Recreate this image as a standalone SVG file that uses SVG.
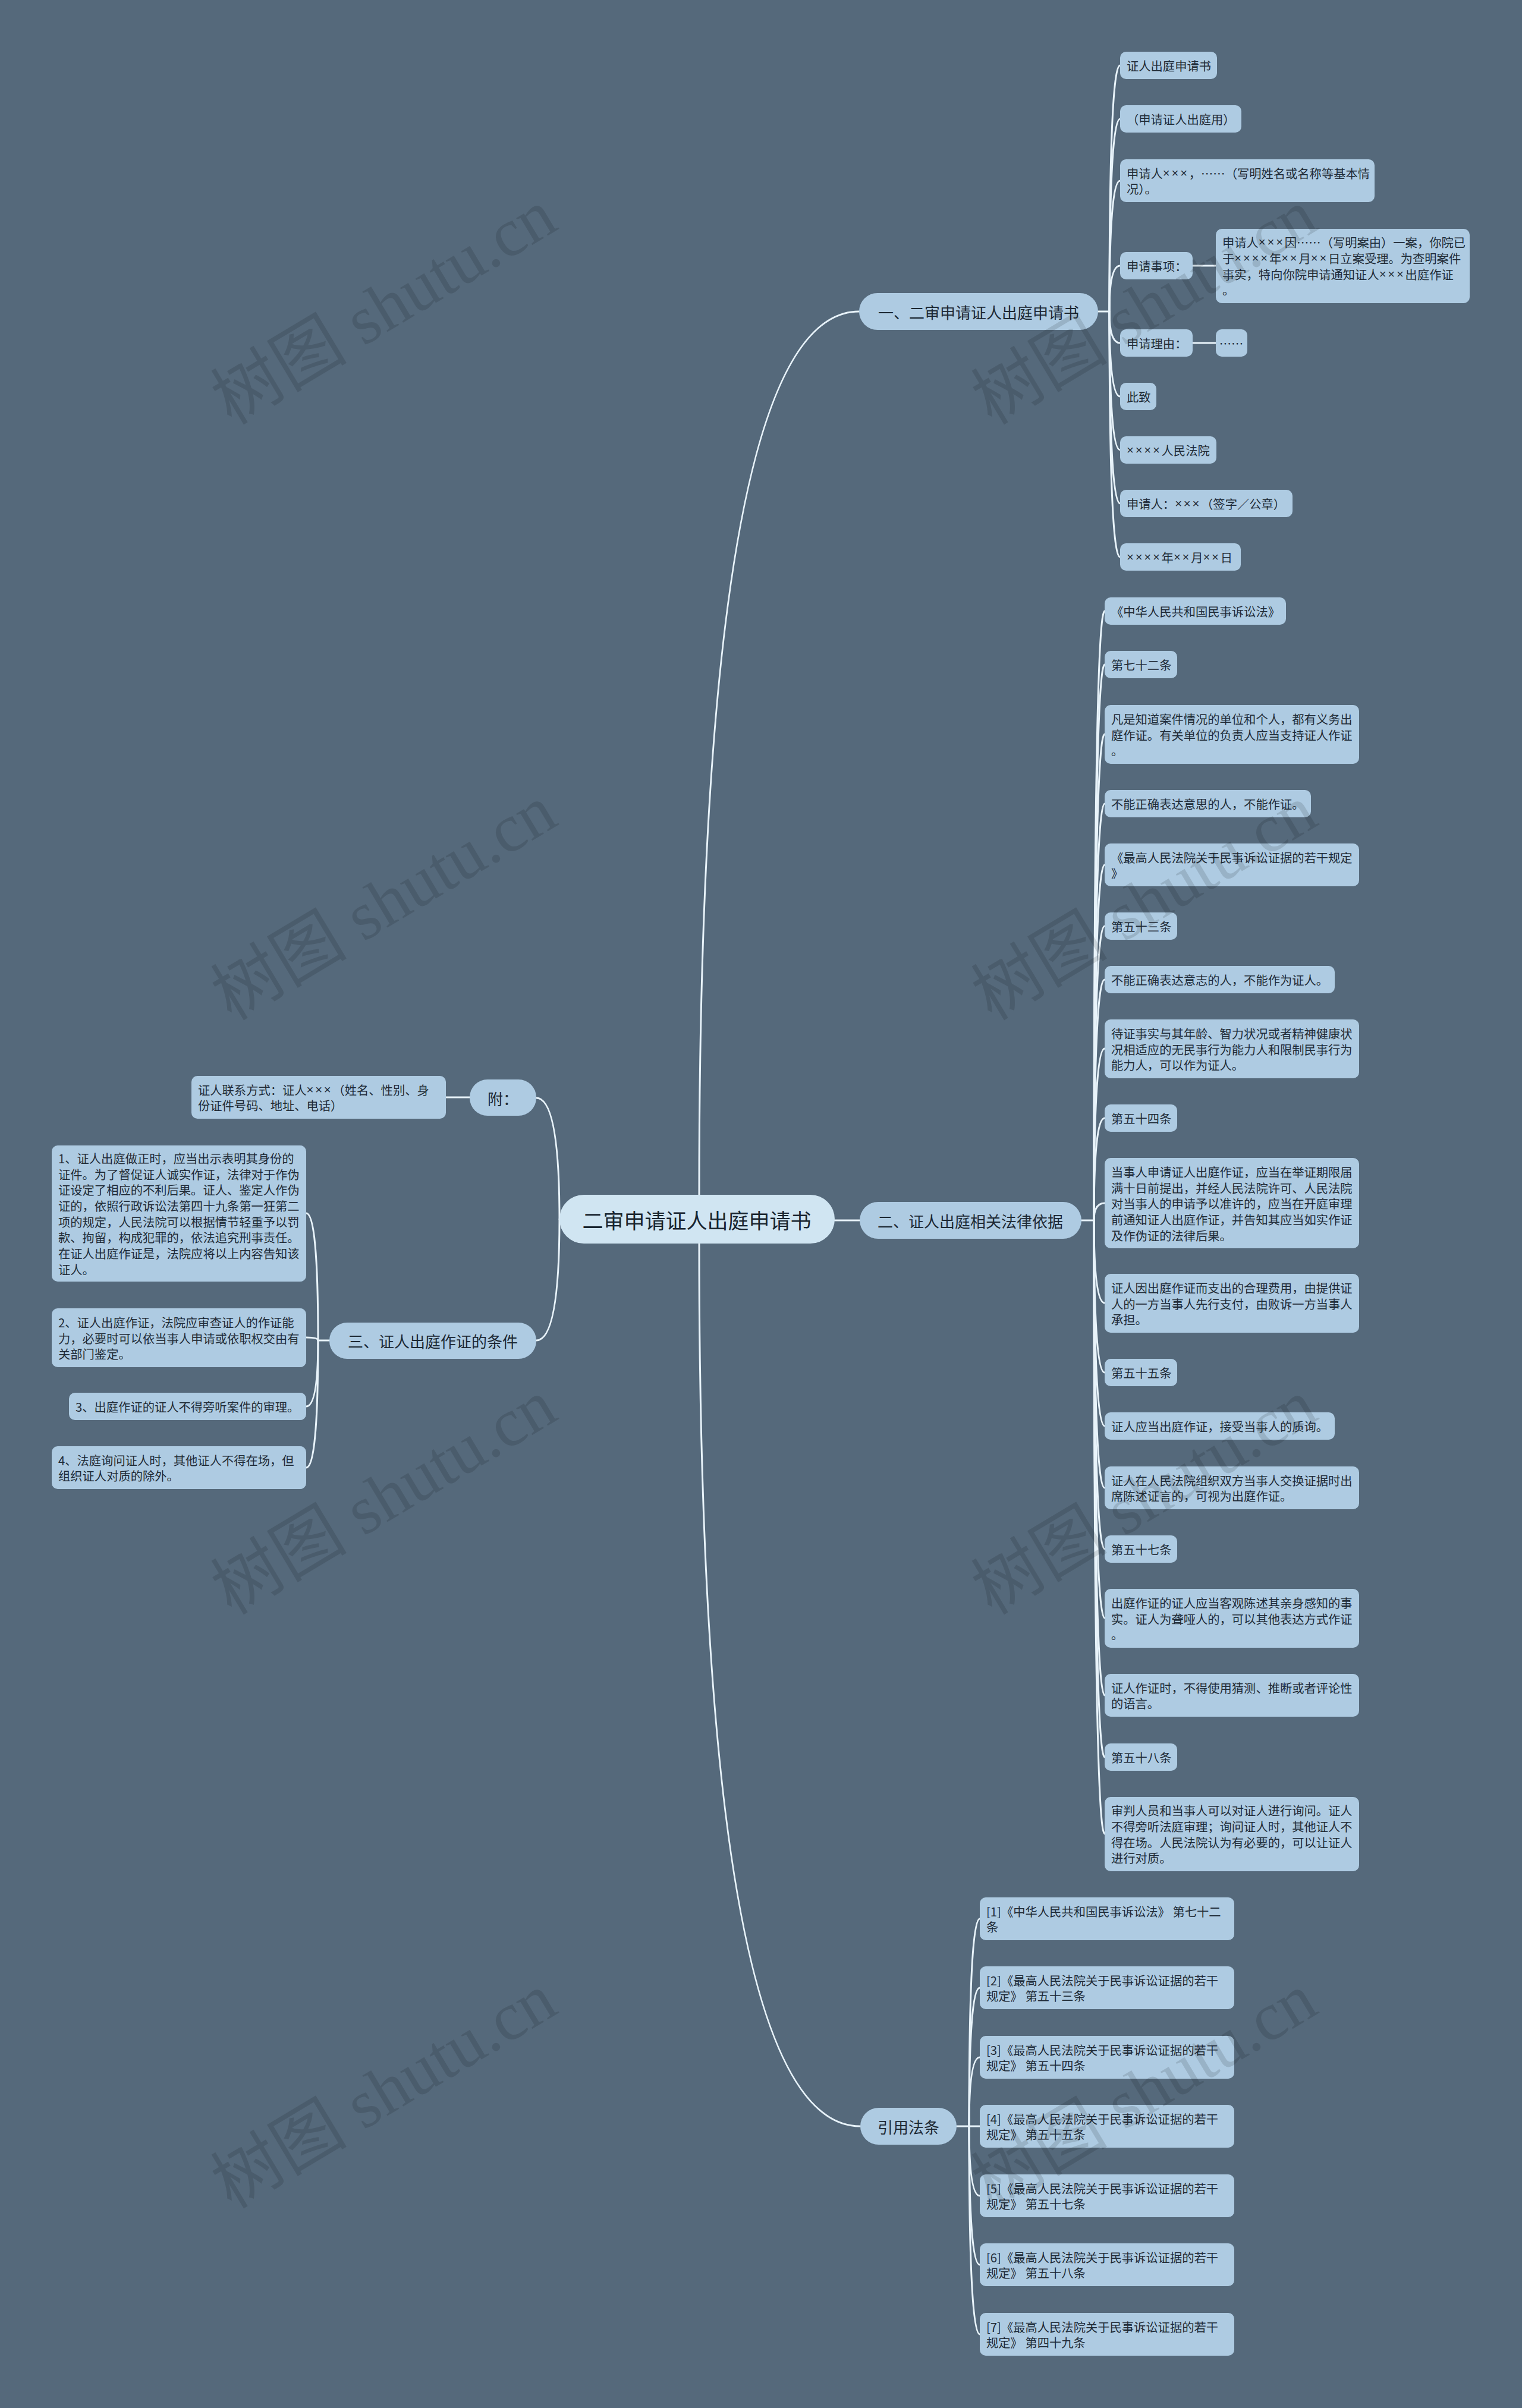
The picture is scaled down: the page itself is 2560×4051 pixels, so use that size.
<svg xmlns="http://www.w3.org/2000/svg" width="2560" height="4051" viewBox="0 0 2560 4051">
<style>
.bg{fill:#55697b}
.conn path{fill:none;stroke:#e8f3fa;stroke-width:3;stroke-linecap:round}
.leaf rect{fill:#aecbe2}
.leaf text{font-family:'Noto Sans CJK SC','Noto Sans',sans-serif;font-size:20.3px;fill:#1f2b37;dominant-baseline:central}
.x{font-family:'Liberation Sans','DejaVu Sans',sans-serif;letter-spacing:2.8px}
.branch rect{fill:#aecbe2}
.branch text{font-family:'Noto Sans CJK SC','Noto Sans',sans-serif;font-size:26px;fill:#1c2833;text-anchor:middle;dominant-baseline:central}
.root rect{fill:#d0e5f2}
.root text{font-family:'Noto Sans CJK SC','Noto Sans',sans-serif;font-size:35px;fill:#18242f;text-anchor:middle;dominant-baseline:central}
.wm text{font-family:'Liberation Serif','Noto Sans CJK SC',serif;font-size:115px;fill:#000;fill-opacity:0.12;text-anchor:middle;dominant-baseline:central}
</style>
<rect class="bg" x="0" y="0" width="2560" height="4051"/>

<g id="connectors" class="conn">
<path d="M1176 2010 Q1176 524 1445 524"/>
<path d="M1176 2092 Q1176 3577 1447 3577"/>
<path d="M941 2051 Q941 1847 902 1847"/>
<path d="M941 2051 Q941 2255 902 2255"/>
<path d="M1404 2053 L1446 2053"/>
<path d="M1847 524 L1866 524"/>
<path d="M1866 524 Q1866 110 1884 110"/>
<path d="M1866 524 Q1866 200 1884 200"/>
<path d="M1866 524 Q1866 304 1884 304"/>
<path d="M1866 524 Q1866 447 1884 447"/>
<path d="M1866 524 Q1866 577 1884 577"/>
<path d="M1866 524 Q1866 667 1884 667"/>
<path d="M1866 524 Q1866 757 1884 757"/>
<path d="M1866 524 Q1866 847 1884 847"/>
<path d="M1866 524 Q1866 937 1884 937"/>
<path d="M2006 447 L2045 447"/>
<path d="M2006 577 L2045 577"/>
<path d="M1819 2053 L1840 2053"/>
<path d="M1840 2053 Q1840 1028 1858 1028"/>
<path d="M1840 2053 Q1840 1118 1858 1118"/>
<path d="M1840 2053 Q1840 1235 1858 1235"/>
<path d="M1840 2053 Q1840 1352 1858 1352"/>
<path d="M1840 2053 Q1840 1455 1858 1455"/>
<path d="M1840 2053 Q1840 1558 1858 1558"/>
<path d="M1840 2053 Q1840 1648 1858 1648"/>
<path d="M1840 2053 Q1840 1764 1858 1764"/>
<path d="M1840 2053 Q1840 1881 1858 1881"/>
<path d="M1840 2053 Q1840 2024 1858 2024"/>
<path d="M1840 2053 Q1840 2192 1858 2192"/>
<path d="M1840 2053 Q1840 2309 1858 2309"/>
<path d="M1840 2053 Q1840 2399 1858 2399"/>
<path d="M1840 2053 Q1840 2503 1858 2503"/>
<path d="M1840 2053 Q1840 2606 1858 2606"/>
<path d="M1840 2053 Q1840 2722 1858 2722"/>
<path d="M1840 2053 Q1840 2852 1858 2852"/>
<path d="M1840 2053 Q1840 2956 1858 2956"/>
<path d="M1840 2053 Q1840 3085 1858 3085"/>
<path d="M1609 3577 L1630 3577"/>
<path d="M1630 3577 Q1630 3228 1648 3228"/>
<path d="M1630 3577 Q1630 3344 1648 3344"/>
<path d="M1630 3577 Q1630 3461 1648 3461"/>
<path d="M1630 3577 L1648 3577"/>
<path d="M1630 3577 Q1630 3694 1648 3694"/>
<path d="M1630 3577 Q1630 3810 1648 3810"/>
<path d="M1630 3577 Q1630 3927 1648 3927"/>
<path d="M790 1846 L750 1846"/>
<path d="M554 2255 L535 2255"/>
<path d="M535 2255 Q535 2041 515 2041"/>
<path d="M535 2255 Q535 2250 515 2250"/>
<path d="M535 2255 Q535 2366 515 2366"/>
<path d="M535 2255 Q535 2469 515 2469"/>
</g>

<g id="root" class="root"><rect x="941" y="2010" width="463" height="82" rx="41"/><text x="1172" y="2051">二审申请证人出庭申请书</text></g>

<g id="b1" class="branch"><rect x="1445" y="493" width="402" height="62" rx="31"/><text x="1646" y="524">一、二审申请证人出庭申请书</text></g>
<g id="b2" class="branch"><rect x="1446" y="2022" width="373" height="62" rx="31"/><text x="1632" y="2053">二、证人出庭相关法律依据</text></g>
<g id="b3" class="branch"><rect x="1447" y="3546" width="162" height="62" rx="31"/><text x="1528" y="3577">引用法条</text></g>
<g id="b4" class="branch"><rect x="790" y="1816" width="112" height="61" rx="30"/><text x="846" y="1847">附：</text></g>
<g id="b5" class="branch"><rect x="554" y="2225" width="348" height="61" rx="30"/><text x="728" y="2255">三、证人出庭作证的条件</text></g>

<g id="n1-1" class="leaf"><rect x="1884" y="87" width="163" height="46" rx="10"/><text x="1895" y="110">证人出庭申请书</text></g>
<g id="n1-2" class="leaf"><rect x="1884" y="177" width="204" height="46" rx="10"/><text x="1895" y="200">（申请证人出庭用）</text></g>
<g id="n1-3" class="leaf"><rect x="1884" y="268" width="428" height="72" rx="10"/><text x="1895" y="291">申请人<tspan class="x">×××</tspan>，……（写明姓名或名称等基本情</text><text x="1895" y="317">况）。</text></g>
<g id="n1-4" class="leaf"><rect x="1884" y="424" width="122" height="46" rx="10"/><text x="1895" y="447">申请事项：</text></g>
<g id="n1-4a" class="leaf"><rect x="2045" y="385" width="427" height="125" rx="10"/><text x="2056" y="407">申请人<tspan class="x">×××</tspan>因……（写明案由）一案，你院已</text><text x="2056" y="434">于<tspan class="x">××××</tspan>年<tspan class="x">××</tspan>月<tspan class="x">××</tspan>日立案受理。为查明案件</text><text x="2056" y="461">事实，特向你院申请通知证人<tspan class="x">×××</tspan>出庭作证</text><text x="2056" y="487">。</text></g>
<g id="n1-5" class="leaf"><rect x="1884" y="554" width="122" height="46" rx="10"/><text x="1895" y="577">申请理由：</text></g>
<g id="n1-5a" class="leaf"><rect x="2045" y="554" width="53" height="46" rx="10"/><text x="2071" y="577" style="text-anchor:middle">……</text></g>
<g id="n1-6" class="leaf"><rect x="1884" y="644" width="61" height="46" rx="10"/><text x="1895" y="667">此致</text></g>
<g id="n1-7" class="leaf"><rect x="1884" y="734" width="162" height="46" rx="10"/><text x="1895" y="757"><tspan class="x">××××</tspan>人民法院</text></g>
<g id="n1-8" class="leaf"><rect x="1884" y="824" width="290" height="46" rx="10"/><text x="1895" y="847">申请人：<tspan class="x">×××</tspan>（签字／公章）</text></g>
<g id="n1-9" class="leaf"><rect x="1884" y="914" width="203" height="46" rx="10"/><text x="1895" y="937"><tspan class="x">××××</tspan>年<tspan class="x">××</tspan>月<tspan class="x">××</tspan>日</text></g>

<g id="n2-1" class="leaf"><rect x="1858" y="1005" width="305" height="46" rx="10"/><text x="1869" y="1028">《中华人民共和国民事诉讼法》</text></g>
<g id="n2-2" class="leaf"><rect x="1858" y="1095" width="122" height="46" rx="10"/><text x="1869" y="1118">第七十二条</text></g>
<g id="n2-3" class="leaf"><rect x="1858" y="1186" width="428" height="99" rx="10"/><text x="1869" y="1209">凡是知道案件情况的单位和个人，都有义务出</text><text x="1869" y="1236">庭作证。有关单位的负责人应当支持证人作证</text><text x="1869" y="1262">。</text></g>
<g id="n2-4" class="leaf"><rect x="1858" y="1329" width="347" height="46" rx="10"/><text x="1869" y="1352">不能正确表达意思的人，不能作证。</text></g>
<g id="n2-5" class="leaf"><rect x="1858" y="1419" width="428" height="72" rx="10"/><text x="1869" y="1442">《最高人民法院关于民事诉讼证据的若干规定</text><text x="1869" y="1468">》</text></g>
<g id="n2-6" class="leaf"><rect x="1858" y="1535" width="122" height="46" rx="10"/><text x="1869" y="1558">第五十三条</text></g>
<g id="n2-7" class="leaf"><rect x="1858" y="1625" width="387" height="46" rx="10"/><text x="1869" y="1648">不能正确表达意志的人，不能作为证人。</text></g>
<g id="n2-8" class="leaf"><rect x="1858" y="1715" width="428" height="99" rx="10"/><text x="1869" y="1738">待证事实与其年龄、智力状况或者精神健康状</text><text x="1869" y="1765">况相适应的无民事行为能力人和限制民事行为</text><text x="1869" y="1791">能力人，可以作为证人。</text></g>
<g id="n2-9" class="leaf"><rect x="1858" y="1858" width="122" height="46" rx="10"/><text x="1869" y="1881">第五十四条</text></g>
<g id="n2-10" class="leaf"><rect x="1858" y="1948" width="428" height="152" rx="10"/><text x="1869" y="1971">当事人申请证人出庭作证，应当在举证期限届</text><text x="1869" y="1998">满十日前提出，并经人民法院许可、人民法院</text><text x="1869" y="2024">对当事人的申请予以准许的，应当在开庭审理</text><text x="1869" y="2051">前通知证人出庭作证，并告知其应当如实作证</text><text x="1869" y="2078">及作伪证的法律后果。</text></g>
<g id="n2-11" class="leaf"><rect x="1858" y="2143" width="428" height="99" rx="10"/><text x="1869" y="2166">证人因出庭作证而支出的合理费用，由提供证</text><text x="1869" y="2193">人的一方当事人先行支付，由败诉一方当事人</text><text x="1869" y="2219">承担。</text></g>
<g id="n2-12" class="leaf"><rect x="1858" y="2286" width="122" height="46" rx="10"/><text x="1869" y="2309">第五十五条</text></g>
<g id="n2-13" class="leaf"><rect x="1858" y="2376" width="387" height="46" rx="10"/><text x="1869" y="2399">证人应当出庭作证，接受当事人的质询。</text></g>
<g id="n2-14" class="leaf"><rect x="1858" y="2467" width="428" height="72" rx="10"/><text x="1869" y="2490">证人在人民法院组织双方当事人交换证据时出</text><text x="1869" y="2516">席陈述证言的，可视为出庭作证。</text></g>
<g id="n2-15" class="leaf"><rect x="1858" y="2583" width="122" height="46" rx="10"/><text x="1869" y="2606">第五十七条</text></g>
<g id="n2-16" class="leaf"><rect x="1858" y="2673" width="428" height="99" rx="10"/><text x="1869" y="2696">出庭作证的证人应当客观陈述其亲身感知的事</text><text x="1869" y="2723">实。证人为聋哑人的，可以其他表达方式作证</text><text x="1869" y="2749">。</text></g>
<g id="n2-17" class="leaf"><rect x="1858" y="2816" width="428" height="72" rx="10"/><text x="1869" y="2839">证人作证时，不得使用猜测、推断或者评论性</text><text x="1869" y="2865">的语言。</text></g>
<g id="n2-18" class="leaf"><rect x="1858" y="2933" width="122" height="46" rx="10"/><text x="1869" y="2956">第五十八条</text></g>
<g id="n2-19" class="leaf"><rect x="1858" y="3023" width="428" height="125" rx="10"/><text x="1869" y="3045">审判人员和当事人可以对证人进行询问。证人</text><text x="1869" y="3072">不得旁听法庭审理；询问证人时，其他证人不</text><text x="1869" y="3099">得在场。人民法院认为有必要的，可以让证人</text><text x="1869" y="3125">进行对质。</text></g>

<g id="n3-1" class="leaf"><rect x="1648" y="3192" width="428" height="72" rx="10"/><text x="1659" y="3215">[1]《中华人民共和国民事诉讼法》 第七十二</text><text x="1659" y="3241">条</text></g>
<g id="n3-2" class="leaf"><rect x="1648" y="3308" width="428" height="72" rx="10"/><text x="1659" y="3331">[2]《最高人民法院关于民事诉讼证据的若干</text><text x="1659" y="3357">规定》 第五十三条</text></g>
<g id="n3-3" class="leaf"><rect x="1648" y="3425" width="428" height="72" rx="10"/><text x="1659" y="3448">[3]《最高人民法院关于民事诉讼证据的若干</text><text x="1659" y="3474">规定》 第五十四条</text></g>
<g id="n3-4" class="leaf"><rect x="1648" y="3541" width="428" height="72" rx="10"/><text x="1659" y="3564">[4]《最高人民法院关于民事诉讼证据的若干</text><text x="1659" y="3590">规定》 第五十五条</text></g>
<g id="n3-5" class="leaf"><rect x="1648" y="3658" width="428" height="72" rx="10"/><text x="1659" y="3681">[5]《最高人民法院关于民事诉讼证据的若干</text><text x="1659" y="3707">规定》 第五十七条</text></g>
<g id="n3-6" class="leaf"><rect x="1648" y="3774" width="428" height="72" rx="10"/><text x="1659" y="3797">[6]《最高人民法院关于民事诉讼证据的若干</text><text x="1659" y="3823">规定》 第五十八条</text></g>
<g id="n3-7" class="leaf"><rect x="1648" y="3891" width="428" height="72" rx="10"/><text x="1659" y="3914">[7]《最高人民法院关于民事诉讼证据的若干</text><text x="1659" y="3940">规定》 第四十九条</text></g>

<g id="n4-1" class="leaf"><rect x="322" y="1810" width="428" height="72" rx="10"/><text x="333" y="1833">证人联系方式：证人<tspan class="x">×××</tspan>（姓名、性别、身</text><text x="333" y="1859">份证件号码、地址、电话）</text></g>

<g id="n5-1" class="leaf"><rect x="87" y="1927" width="428" height="229" rx="10"/><text x="98" y="1948">1、证人出庭做正时，应当出示表明其身份的</text><text x="98" y="1975">证件。为了督促证人诚实作证，法律对于作伪</text><text x="98" y="2001">证设定了相应的不利后果。证人、鉴定人作伪</text><text x="98" y="2028">证的，依照行政诉讼法第四十九条第一狂第二</text><text x="98" y="2055">项的规定，人民法院可以根据情节轻重予以罚</text><text x="98" y="2081">款、拘留，构成犯罪的，依法追究刑事责任。</text><text x="98" y="2108">在证人出庭作证是，法院应将以上内容告知该</text><text x="98" y="2135">证人。</text></g>
<g id="n5-2" class="leaf"><rect x="87" y="2201" width="428" height="99" rx="10"/><text x="98" y="2224">2、证人出庭作证，法院应审查证人的作证能</text><text x="98" y="2251">力，必要时可以依当事人申请或依职权交由有</text><text x="98" y="2277">关部门鉴定。</text></g>
<g id="n5-3" class="leaf"><rect x="116" y="2343" width="399" height="46" rx="10"/><text x="127" y="2366">3、出庭作证的证人不得旁听案件的审理。</text></g>
<g id="n5-4" class="leaf"><rect x="87" y="2433" width="428" height="72" rx="10"/><text x="98" y="2456">4、法庭询问证人时，其他证人不得在场，但</text><text x="98" y="2482">组织证人对质的除外。</text></g>

<g id="watermarks" class="wm">
<text transform="translate(646 517) rotate(-31)">树图 shutu.cn</text>
<text transform="translate(1925 517) rotate(-31)">树图 shutu.cn</text>
<text transform="translate(646 1519) rotate(-31)">树图 shutu.cn</text>
<text transform="translate(1925 1519) rotate(-31)">树图 shutu.cn</text>
<text transform="translate(646 2519) rotate(-31)">树图 shutu.cn</text>
<text transform="translate(1925 2519) rotate(-31)">树图 shutu.cn</text>
<text transform="translate(646 3518) rotate(-31)">树图 shutu.cn</text>
<text transform="translate(1925 3518) rotate(-31)">树图 shutu.cn</text>
</g>
</svg>
